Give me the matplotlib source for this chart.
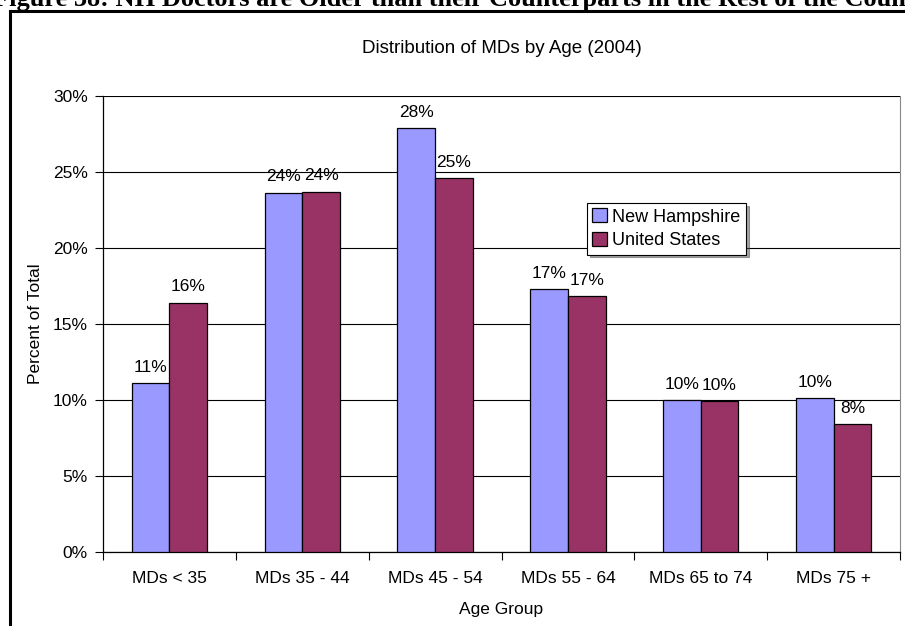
import matplotlib
matplotlib.use("Agg")
import matplotlib.pyplot as plt
from matplotlib.lines import Line2D
import numpy as np

categories = ["MDs < 35", "MDs 35 - 44", "MDs 45 - 54", "MDs 55 - 64", "MDs 65 to 74", "MDs 75 +"]
nh_values = [11.1, 23.65, 27.9, 17.3, 10.0, 10.1]
us_values = [16.4, 23.7, 24.6, 16.85, 9.93, 8.4]
nh_labels = ["11%", "24%", "28%", "17%", "10%", "10%"]
us_labels = ["16%", "24%", "25%", "17%", "10%", "8%"]
yticks = [0, 5, 10, 15, 20, 25, 30]

plt.rcParams['font.family'] = ['Liberation Sans', 'DejaVu Sans']

W, H = 905, 626
fig = plt.figure(figsize=(W / 100, H / 100), dpi=100)
ax = fig.add_axes([103 / W, 1 - 552 / H, (900 - 103) / W, (552 - 96) / H])

x = np.arange(len(categories))
bw = 0.283
b1 = ax.bar(x - bw / 2, nh_values, bw, color="#9999FF", edgecolor="black", linewidth=0.9,
            label="New Hampshire", zorder=3)
b2 = ax.bar(x + bw / 2, us_values, bw, color="#993366", edgecolor="black", linewidth=0.9,
            label="United States", zorder=3)

for rects, labs in ((b1, nh_labels), (b2, us_labels)):
    for r, lab in zip(rects, labs):
        ax.annotate(lab, (r.get_x() + r.get_width() / 2, r.get_height()),
                    xytext=(0, 6), textcoords="offset points", ha="center", va="bottom",
                    fontsize=12.5, zorder=4)

ax.set_xlim(-0.5, len(categories) - 0.5)
ax.set_ylim(0, 30)
ax.set_yticks(yticks)
ax.set_yticklabels([f"{v}%" for v in yticks], fontsize=12.5)
ax.yaxis.grid(True, color="black", linewidth=0.8, zorder=0)
ax.set_axisbelow(True)

ax.set_xticks(x)
ax.set_xticklabels(categories, fontsize=12.5)
ax.tick_params(axis="x", length=0, pad=14)
ax.set_xticks(np.arange(len(categories) + 1) - 0.5, minor=True)
ax.tick_params(axis="x", which="minor", length=6, width=0.8, direction="out")
ax.tick_params(axis="y", length=6, width=0.8, direction="out", pad=5)

for s in ("left", "bottom"):
    ax.spines[s].set_color("black")
    ax.spines[s].set_linewidth(0.9)
ax.spines["top"].set_visible(False)
ax.spines["right"].set_color("#888888")
ax.spines["right"].set_linewidth(0.8)

ax.set_ylabel("Percent of Total", fontsize=12.5, labelpad=7)
ax.set_xlabel("Age Group", fontsize=12.5, labelpad=11)
ax.set_title("Distribution of MDs by Age (2004)", fontsize=13.5, pad=31)

leg = ax.legend(loc="upper left", bbox_to_anchor=((587 - 103) / (900 - 103), 1 - (203 - 96) / (552 - 96)),
                fontsize=13, frameon=True, fancybox=False, shadow=True, borderpad=0.3,
                handlelength=0.8, handleheight=0.8, handletextpad=0.3, labelspacing=0.35,
                borderaxespad=0)
leg.get_frame().set_edgecolor("black")
leg.get_frame().set_linewidth(0.8)

# outer frame (left and top)
fig.add_artist(Line2D([10 / W, 10 / W, 1.0], [0.0, 1 - 11 / H, 1 - 11 / H],
                      transform=fig.transFigure, color="black", linewidth=2.2,
                      solid_joinstyle="miter"))

fig.text(-0.008, 1 - 6 / H, "Figure 38: NH Doctors are Older than their Counterparts in the Rest of the Country",
         ha="left", va="baseline", fontsize=19, fontweight="bold",
         family=["Liberation Serif", "DejaVu Serif"])

fig.savefig("out.png", dpi=100)
